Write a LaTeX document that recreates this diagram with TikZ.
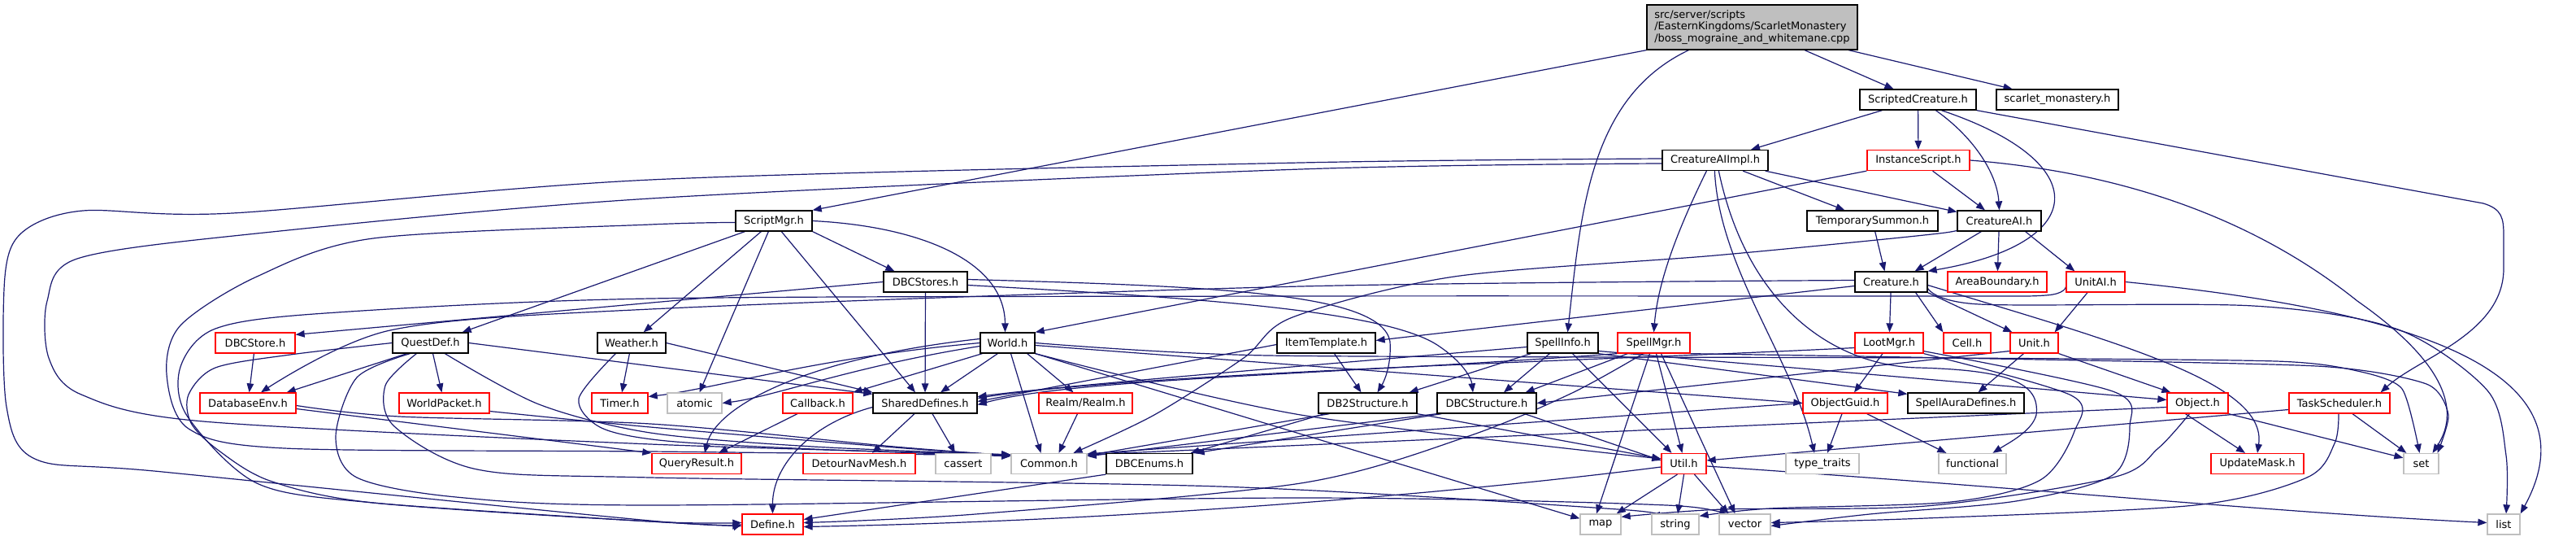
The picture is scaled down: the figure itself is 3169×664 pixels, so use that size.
\documentclass[tikz,border=0pt]{standalone}
\usepackage{fontspec}
\setmainfont{DejaVu Sans}
\usetikzlibrary{arrows.meta}
\definecolor{edgec}{HTML}{191970}
\definecolor{nred}{HTML}{FF0000}
\definecolor{ngrey}{HTML}{BFBFBF}
\pgfdeclarelayer{bg}
\pgfsetlayers{bg,main}
\begin{document}
\begin{tikzpicture}[x=1pt,y=-1pt,
 box/.style={draw=black, fill=white, line width=1.3pt, minimum height=25pt, inner sep=0pt, font=\fontsize{13}{14.5}\selectfont},
 rbox/.style={box, draw=nred},
 gbox/.style={box, draw=ngrey},
 conn/.style={draw=edgec, line width=1.2pt, -{Triangle[length=11pt,width=8.5pt]}, line join=round}]
\useasboundingbox (0,0) rectangle (3169,664);
% nodes
\node[box, fill=ngrey, minimum width=259pt, minimum height=55pt, align=left] (top) at (2155.5,33.5) {src/server/scripts\\/EasternKingdoms/ScarletMonastery\\/boss\_mograine\_and\_whitemane.cpp};
\node[box, minimum width=143pt] (SC) at (2359.5,122.5) {ScriptedCreature.h};
\node[box, minimum width=150pt] (SM) at (2531,122.5) {scarlet\_monastery.h};
\node[box, minimum width=130pt] (CAII) at (2110,197) {CreatureAIImpl.h};
\node[rbox, minimum width=126pt] (IS) at (2360,197) {InstanceScript.h};
\node[box, minimum width=161pt] (TS) at (2303.5,271.5) {TemporarySummon.h};
\node[box, minimum width=103pt] (CAI) at (2459.5,271.5) {CreatureAI.h};
\node[box, minimum width=94pt] (SMgr) at (952,271.5) {ScriptMgr.h};
\node[box, minimum width=103pt] (DBCStores) at (1138.5,346.5) {DBCStores.h};
\node[box, minimum width=89pt] (Creature) at (2326.5,346.5) {Creature.h};
\node[rbox, minimum width=122pt] (AreaB) at (2457,346.5) {AreaBoundary.h};
\node[rbox, minimum width=72pt] (UnitAI) at (2578,346.5) {UnitAI.h};
\node[rbox, minimum width=98pt] (DBCStore) at (314,421.5) {DBCStore.h};
\node[box, minimum width=93pt] (QuestDef) at (529.5,421.5) {QuestDef.h};
\node[box, minimum width=84pt] (Weather) at (777,421.5) {Weather.h};
\node[box, minimum width=67pt] (World) at (1239.5,421.5) {World.h};
\node[box, minimum width=121pt] (ItemT) at (1631.5,421.5) {ItemTemplate.h};
\node[box, minimum width=87pt] (SpellInfo) at (1922.5,421.5) {SpellInfo.h};
\node[rbox, minimum width=89pt] (SpellMgr) at (2034.5,421.5) {SpellMgr.h};
\node[rbox, minimum width=84pt] (LootMgr) at (2324,421.5) {LootMgr.h};
\node[rbox, minimum width=58pt] (Cell) at (2420,421.5) {Cell.h};
\node[rbox, minimum width=59pt] (Unit) at (2502.5,421.5) {Unit.h};
\node[rbox, minimum width=118pt] (DBEnv) at (305,495.5) {DatabaseEnv.h};
\node[rbox, minimum width=111pt] (WorldP) at (546.5,495.5) {WorldPacket.h};
\node[rbox, minimum width=69pt] (Timer) at (762.5,495.5) {Timer.h};
\node[gbox, minimum width=67pt] (atomic) at (854.5,495.5) {atomic};
\node[rbox, minimum width=86pt] (Callback) at (1006,495.5) {Callback.h};
\node[box, minimum width=128pt] (SharedD) at (1138,495.5) {SharedDefines.h};
\node[rbox, minimum width=115pt] (Realm) at (1335.5,495.5) {Realm/Realm.h};
\node[box, minimum width=121pt] (DB2S) at (1682.5,495.5) {DB2Structure.h};
\node[box, minimum width=122pt] (DBCS) at (1829,495.5) {DBCStructure.h};
\node[rbox, minimum width=104pt] (OGuid) at (2270,495.5) {ObjectGuid.h};
\node[box, minimum width=143pt] (SpellAura) at (2418.5,495.5) {SpellAuraDefines.h};
\node[rbox, minimum width=75pt] (Object) at (2703.5,495.5) {Object.h};
\node[rbox, minimum width=124pt] (TaskS) at (2878,495.5) {TaskScheduler.h};
\node[rbox, minimum width=110pt] (QueryR) at (857,570) {QueryResult.h};
\node[rbox, minimum width=138pt] (Detour) at (1057,570) {DetourNavMesh.h};
\node[gbox, minimum width=68pt] (cassert) at (1185,570) {cassert};
\node[gbox, minimum width=93pt] (Common) at (1290.5,570) {Common.h};
\node[box, minimum width=106pt] (DBCEnums) at (1414,570) {DBCEnums.h};
\node[rbox, minimum width=55pt] (Util) at (2071.5,570) {Util.h};
\node[gbox, minimum width=90pt] (tt) at (2242,570) {type\_traits};
\node[gbox, minimum width=83pt] (func) at (2426.5,570) {functional};
\node[rbox, minimum width=114pt] (UpdMask) at (2777,570) {UpdateMask.h};
\node[gbox, minimum width=43pt] (set) at (2978.5,570) {set};
\node[rbox, minimum width=75pt] (Define) at (950.5,644.5) {Define.h};
\node[gbox, minimum width=50pt] (map) at (1969,644.5) {map};
\node[gbox, minimum width=58pt] (string) at (2061,644.5) {string};
\node[gbox, minimum width=63pt] (vector) at (2146.5,644.5) {vector};
\node[gbox, minimum width=40pt] (list) at (3080,644.5) {list};
\begin{pgfonlayer}{bg}
\fill[white] (0,0) rectangle (3169,664);
% top
\draw[conn] (top.south west) -- (SMgr.north east);
\draw[conn] ([xshift=52pt]top.south west) .. controls (1955,120) and (1945,260) .. ([xshift=6pt]SpellInfo.north);
\draw[conn] (top) -- (SC);
\draw[conn] (top) -- (SM);
% ScriptedCreature
\draw[conn] (SC) -- (CAII);
\draw[conn] (SC) -- (IS);
\draw[conn] ([xshift=94pt]SC.south west) .. controls (2430,170) and (2457,215) .. (CAI.north);
\draw[conn] ([xshift=101pt]SC.south west) .. controls (2580,200) and (2570,300) .. (Creature.north east);
\draw[conn] (SC.south east) -- (3055,250) .. controls (3078,257) and (3080,268) .. (3080,290) -- (3080,330) .. controls (3080,410) and (2975,440) .. ([xshift=-12pt]TaskS.north east);
% InstanceScript
\draw[conn] (IS) -- (CAI);
\draw[conn] (IS.south west) -- (World.north east);
\draw[conn] (IS.east) .. controls (2650,215) and (2800,290) .. (2900,370) .. controls (3000,440) and (3030,500) .. ([xshift=14pt]set.north);
% CreatureAIImpl
\draw[conn] (CAII) -- (TS);
\draw[conn] (CAII) -- (CAI);
\draw[conn] ([xshift=55pt]CAII.south west) .. controls (2070,270) and (2040,340) .. (SpellMgr.north);
\draw[conn] ([xshift=65pt]CAII.south west) .. controls (2115,330) and (2205,440) .. ([xshift=-10pt]tt.north);
\draw[conn] ([xshift=70pt]CAII.south west) .. controls (2150,380) and (2260,450) .. (2360,452) .. controls (2470,455) and (2510,470) .. (2505,510) .. controls (2500,530) and (2470,545) .. ([xshift=25pt]func.north);
\draw[conn] plot[smooth,tension=0.5] coordinates {([yshift=-4pt]CAII.west) (1600,208) (800,244) (306,288) (95,318) (58,370) (60,440) (100,485) (250,518) (800,546) ([yshift=-2pt]Common.north west)};
\draw[conn] plot[smooth,tension=0.5] coordinates {([yshift=2pt]CAII.west) (1600,200) (800,221) (286,262) (102,259) (28,285) (6,340) (8,500) (45,565) (200,580) (800,640) (Define.west)};
% ScriptMgr
\draw[conn] plot[smooth,tension=0.5] coordinates {([yshift=-2pt]SMgr.west) (800,276) (459,293) (316,340) (222,400) (205,460) (232,527) (350,551) (800,555) ([yshift=-3pt]Common.north west)};
\draw[conn] ([xshift=12pt]SMgr.south west) -- ([xshift=-8pt]QuestDef.north east);
\draw[conn] ([xshift=32pt]SMgr.south west) -- ([xshift=-28pt]Weather.north east);
\draw[conn] ([xshift=41pt]SMgr.south west) -- ([xshift=6pt]atomic.north);
\draw[conn] ([xshift=57pt]SMgr.south west) -- ([xshift=-12pt]SharedD.north);
\draw[conn] (SMgr.south east) -- ([xshift=14pt]DBCStores.north west);
\draw[conn] (SMgr.east) .. controls (1130,278) and (1236,320) .. ([xshift=-3pt]World.north);
% DBCStores
\draw[conn] (DBCStores.west) -- ([yshift=-3pt]DBCStore.north east);
\draw[conn] (DBCStores) -- (SharedD);
\draw[conn] ([yshift=3pt]DBCStores.east) .. controls (1500,352) and (1700,360) .. (1710,420) .. controls (1712,450) and (1702,470) .. ([xshift=12pt]DB2S.north);
\draw[conn] ([yshift=-4pt]DBCStores.east) .. controls (1450,365) and (1700,380) .. (1768,424) .. controls (1800,445) and (1810,465) .. ([xshift=-17pt]DBCS.north);
% Weather
\draw[conn] (Weather.east) -- (SharedD.north west);
\draw[conn] (Weather) -- (Timer);
\draw[conn] plot[smooth,tension=0.5] coordinates {([xshift=23pt]Weather.south west) (712,490) (740,526) (820,542) (1000,552) ([yshift=-4pt]Common.north west)};
% QuestDef
\draw[conn] ([xshift=18pt]QuestDef.south west) -- ([xshift=-12pt]DBEnv.north east);
\draw[conn] (QuestDef) -- (WorldP);
\draw[conn] (QuestDef.east) -- ([yshift=-2pt]SharedD.north west);
\draw[conn] plot[smooth,tension=0.5] coordinates {(QuestDef.west) (357,436) (265,452) (232,485) (235,520) (268,553) (332,591) (459,618) (800,641) ([yshift=2pt]Define.west)};
\draw[conn] plot[smooth,tension=0.5] coordinates {([xshift=22pt]QuestDef.south west) (439,464) (413,537) (439,587) (561,611) (800,621) (1600,612) (2050,621) ([yshift=-3pt]vector.north west)};
\draw[conn] plot[smooth,tension=0.5] coordinates {([xshift=30pt]QuestDef.south west) (474,474) (485,524) (587,577) (800,587) (1500,598) (1990,626) ([yshift=-3pt]string.north west)};
\draw[conn] plot[smooth,tension=0.5] coordinates {([xshift=65pt]QuestDef.south west) (663,497) (800,532) (1000,549) ([yshift=-2pt]Common.north west)};
% DBCStore, DatabaseEnv, WorldPacket
\draw[conn] (DBCStore) -- (DBEnv);
\draw[conn] ([yshift=-7pt]DBEnv.east) -- (QueryR.north west);
\draw[conn] plot[smooth,tension=0.5] coordinates {([yshift=-3pt]DBEnv.east) (491,512) (800,521) (1100,549) ([yshift=-3pt]Common.north west)};
\draw[conn] plot[smooth,tension=0.5] coordinates {([yshift=-10pt]WorldP.east) (800,525) (1100,550) ([yshift=-3pt]Common.north west)};
% World
\draw[conn] (World.west) .. controls (1000,440) and (880,478) .. ([yshift=8pt]Timer.east);
\draw[conn] ([yshift=-4pt]World.west) .. controls (1050,450) and (950,488) .. (atomic.east);
\draw[conn] ([yshift=5pt]World.west) .. controls (990,440) and (880,500) .. ([xshift=10pt]QueryR.north);
\draw[conn] ([xshift=3pt]World.south west) -- (Callback.north east);
\draw[conn] ([xshift=22pt]World.south west) -- ([xshift=19pt]SharedD.north);
\draw[conn] ([xshift=4pt]World.south) -- ([xshift=-10pt]Common.north);
\draw[conn] ([xshift=-10pt]World.south east) -- ([xshift=-15pt]Realm.north);
\draw[conn] ([yshift=-3pt]World.east) -- (OGuid.west);
\draw[conn] plot[smooth,tension=0.4] coordinates {(World.east) (1560,437) (2400,440) (2800,444) (2900,456) (2955,478) ([xshift=-2pt]set.north)};
\draw[conn] plot[smooth,tension=0.5] coordinates {(World.south east) (1600,510) ([yshift=6pt]Util.west)};
\draw[conn] (World.south east) -- ([yshift=-6pt]map.north west);
% Realm, Callback, SharedDefines, DBCEnums
\draw[conn] ([xshift=-10pt]Realm.south) -- ([xshift=12pt]Common.north);
\draw[conn] ([xshift=-25pt]Callback.south) -- ([xshift=27pt]QueryR.north);
\draw[conn] ([xshift=-13pt]SharedD.south) -- ([xshift=16pt]Detour.north);
\draw[conn] ([xshift=9pt]SharedD.south) -- ([xshift=-10pt]cassert.north);
\draw[conn] ([yshift=-5pt]SharedD.west) .. controls (1000,520) and (950,570) .. (Define.north);
\draw[conn] (DBCEnums.south west) -- ([yshift=6pt]Define.east);
% ItemTemplate
\draw[conn] ([xshift=10pt]ItemT.south) -- ([xshift=-8pt]DB2S.north);
\draw[conn] ([yshift=-2pt]ItemT.west) -- ([yshift=2pt]SharedD.east);
% SpellInfo
\draw[conn] ([yshift=-5pt]SpellInfo.west) .. controls (1600,450) and (1300,475) .. ([yshift=8pt]SharedD.east);
\draw[conn] ([xshift=5pt]SpellInfo.south west) -- ([xshift=-10pt]DB2S.north east);
\draw[conn] ([xshift=28pt]SpellInfo.south west) -- ([xshift=21pt]DBCS.north);
\draw[conn] ([xshift=12pt]SpellInfo.south) -- ([xshift=-15pt]Util.north);
\draw[conn] (SpellInfo.south east) -- ([yshift=-2pt]SpellAura.north west);
\draw[conn] ([yshift=-10pt]SpellInfo.east) -- ([yshift=4pt]Object.west);
% SpellMgr
\draw[conn] (SpellMgr.south west) .. controls (1650,460) and (1320,465) .. ([yshift=-2pt]SharedD.east);
\draw[conn] ([xshift=13pt]SpellMgr.south west) -- ([xshift=-14pt]DBCS.north east);
\draw[conn] plot[smooth,tension=0.5] coordinates {([xshift=-13pt]SpellMgr.south) (1932,484) (1804,537) (1600,594) (1200,632) ([yshift=2pt]Define.east)};
\draw[conn] ([xshift=-5pt]SpellMgr.south) -- ([xshift=-5pt]map.north);
\draw[conn] ([xshift=3pt]SpellMgr.south) -- ([xshift=-2pt]Util.north);
\draw[conn] ([xshift=9pt]SpellMgr.south) -- ([xshift=-12pt]vector.north);
\draw[conn] plot[smooth,tension=0.4] coordinates {(SpellMgr.south east) (2400,440) (2850,450) (2985,472) (3012,510) ([xshift=20pt]set.north)};
% LootMgr
\draw[conn] ([xshift=-8pt]LootMgr.south) -- ([xshift=11pt]OGuid.north);
\draw[conn] ([yshift=-6pt]LootMgr.west) .. controls (2000,442) and (1400,458) .. ([yshift=6pt]SharedD.east);
\draw[conn] plot[smooth,tension=0.5] coordinates {(LootMgr.south east) (2548,486) (2552,530) (2510,590) (2400,617) (2178,625) ([yshift=-3pt]string.north east)};
\draw[conn] plot[smooth,tension=0.5] coordinates {([yshift=3pt]LootMgr.south east) (2599,481) (2620,524) (2599,584) (2480,616) (2300,632) ([yshift=-2pt]vector.east)};
% Creature
\draw[conn] (Creature) -- (LootMgr);
\draw[conn] ([xshift=-15pt]Creature.south east) -- (Cell.north west);
\draw[conn] (Creature.south east) -- ([xshift=3pt]Unit.north west);
\draw[conn] ([yshift=-4pt]Creature.east) .. controls (2600,420) and (2790,470) .. (UpdMask.north);
\draw[conn] ([yshift=-5pt]Creature.west) -- ([yshift=3pt]ItemT.east);
\draw[conn] plot[smooth,tension=0.5] coordinates {([yshift=2pt]Creature.west) (1600,352) (800,380) (480,406) ([xshift=16pt]DBEnv.north)};
\draw[conn] plot[smooth,tension=0.5] coordinates {([yshift=-8pt]Creature.east) (2435,374) (2772,376) (2950,405) (3060,480) (3083,560) ([xshift=3pt]list.north)};
% CreatureAI
\draw[conn] (CAI) -- (AreaB);
\draw[conn] ([xshift=-20pt]CAI.south east) -- ([xshift=11pt]UnitAI.north west);
\draw[conn] ([xshift=30pt]CAI.south west) -- ([xshift=-16pt]Creature.north east);
\draw[conn] plot[smooth,tension=0.5] coordinates {([yshift=-8pt]CAI.west) (2385,287) (2110,314) (1789,340) (1590,390) (1530,440) (1420,510) ([xshift=30pt]Common.north)};
% TemporarySummon
\draw[conn] (TS) -- ([xshift=-8pt]Creature.north);
% UnitAI
\draw[conn] ([xshift=-10pt]UnitAI.south) -- ([xshift=-5pt]Unit.north east);
\draw[conn] (UnitAI.east) .. controls (2950,380) and (3200,450) .. (list.north east);
\draw[conn] plot[smooth,tension=0.5] coordinates {([yshift=-6pt]UnitAI.west) (2517,363) (2369,364) (1600,364) (800,367) (400,385) (265,404) (222,451) (230,511) (316,594) (459,618) (800,641) ([yshift=-2pt]Define.west)};
% Unit
\draw[conn] (Unit.south east) -- ([xshift=5pt]Object.north west);
\draw[conn] ([xshift=-13pt]Unit.south) -- ([xshift=15pt]SpellAura.north);
\draw[conn] ([yshift=-10pt]Unit.west) -- (DBCS.east);
% Object
\draw[conn] ([yshift=-5pt]Object.west) -- ([yshift=-2pt]Common.north east);
\draw[conn] ([xshift=-15pt]Object.south) -- ([xshift=-15pt]UpdMask.north);
\draw[conn] (Object.south east) -- ([yshift=-6pt]set.north west);
\draw[conn] plot[smooth,tension=0.5] coordinates {([xshift=-10pt]Object.south) (2655,551) (2599,587) (2369,622) (2120,626) ([yshift=-4pt]map.north east)};
% TaskScheduler
\draw[conn] ([yshift=-8pt]TaskS.west) -- ([yshift=4pt]Util.east);
\draw[conn] ([xshift=16pt]TaskS.south) -- ([xshift=4pt]set.north west);
\draw[conn] plot[smooth,tension=0.5] coordinates {([xshift=-1pt]TaskS.south) (2872,545) (2838,587) (2700,621) (2369,637) ([yshift=2pt]vector.east)};
% Util
\draw[conn] ([yshift=-4pt]Util.west) .. controls (1800,605) and (1400,640) .. ([yshift=-3pt]Define.east);
\draw[conn] ([xshift=-8pt]Util.south) -- ([xshift=-6pt]map.north east);
\draw[conn] (Util.south) -- ([xshift=3pt]string.north);
\draw[conn] ([xshift=13pt]Util.south) -- ([xshift=-20pt]vector.north);
\draw[conn] ([yshift=-3pt]Util.east) .. controls (2500,600) and (2800,630) .. ([yshift=2pt]list.west);
% ObjectGuid
\draw[conn] (OGuid.west) -- ([yshift=-1pt]Common.north east);
\draw[conn] ([xshift=-4pt]OGuid.south) -- ([xshift=6pt]tt.north);
\draw[conn] ([xshift=-26pt]OGuid.south east) -- ([xshift=10pt]func.north west);
% DB2Structure, DBCStructure
\draw[conn] ([xshift=14pt]DB2S.south west) -- ([yshift=-3pt]Common.north east);
\draw[conn] ([xshift=8pt]DB2S.south west) -- ([xshift=-3pt]DBCEnums.north east);
\draw[conn] (DB2S.south east) -- ([yshift=6pt]Util.west);
\draw[conn] (DBCS.south west) -- ([yshift=-4pt]Common.north east);
\draw[conn] ([xshift=6pt]DBCS.south west) -- ([xshift=3pt]DBCEnums.north east);
\draw[conn] ([xshift=-15pt]DBCS.south east) -- ([yshift=4pt]Util.west);
\end{pgfonlayer}
\end{tikzpicture}
\end{document}
